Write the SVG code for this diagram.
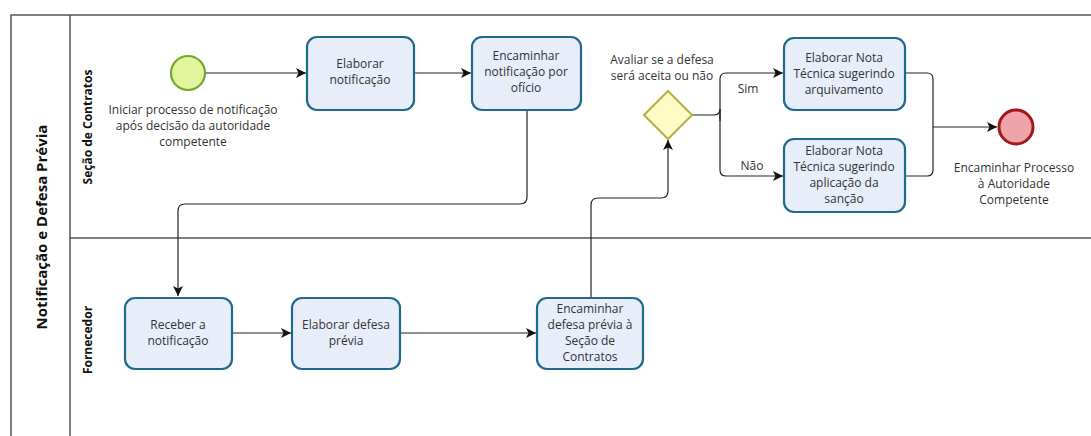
<svg xmlns="http://www.w3.org/2000/svg" width="1091" height="436" viewBox="0 0 1091 436">
<defs>
<marker id="arr" viewBox="0 0 10 10" refX="10" refY="5" markerWidth="10" markerHeight="10" markerUnits="userSpaceOnUse" orient="auto">
<path d="M0,0 L10,5 L0,10 L2.5,5 Z" fill="#111"/>
</marker>
</defs>
<style>
text{font-family:"Open Sans","Noto Sans","Liberation Sans",sans-serif;font-size:12px;fill:#333;text-anchor:middle}
.pool{fill:none;stroke:#555;stroke-width:1.5}
.task{fill:#e8edfa;stroke:#1e6a8c;stroke-width:2.2}
.flow{fill:none;stroke:#222;stroke-width:1.2;marker-end:url(#arr)}
.line{fill:none;stroke:#222;stroke-width:1.2}
.lbl{font-weight:bold;fill:#111}
</style>
<rect width="1091" height="436" fill="#fff"/>
<g id="pool">
<path class="pool" d="M11,440 L11,15 L1095,15"/>
<line class="pool" x1="70" y1="15" x2="70" y2="440"/>
<line class="pool" x1="70" y1="238" x2="1095" y2="238"/>
<text class="lbl" transform="translate(47,227) rotate(-90)" style="font-size:15px">Notificação e Defesa Prévia</text>
<text class="lbl" transform="translate(92,127) rotate(-90)">Seção de Contratos</text>
<text class="lbl" transform="translate(92,340) rotate(-90)">Fornecedor</text>
</g>
<g id="connectors">
<path class="flow" d="M205,73 L306,73"/>
<path class="flow" d="M414,73 L471,73"/>
<path class="flow" d="M527,110 L527,197 Q527,204 520,204 L185,204 Q178,204 178,211 L178,296"/>
<path class="flow" d="M232,333 L291,333"/>
<path class="flow" d="M400,333 L536,333"/>
<path class="flow" d="M591,297 L591,205 Q591,198 598,198 L661,198 Q668,198 668,191 L668,140"/>
<path class="line" d="M692,115 L714,115 Q720,115 720,109"/>
<path class="flow" d="M720,121 L720,79 Q720,73 726,73 L783,73"/>
<path class="flow" d="M720,109 L720,170 Q720,176 726,176 L783,176"/>
<path class="line" d="M905,73 L927,73 Q933,73 933,79 L933,170 Q933,176 927,176 L905,176"/>
<path class="flow" d="M933,127 L997,127"/>
<text x="748" y="93">Sim</text>
<text x="752" y="170">Não</text>
</g>
<g id="start">
<circle cx="188" cy="73" r="17" fill="#e3f59c" stroke="#72a92d" stroke-width="2.2"/>
<text x="193" y="114">Iniciar processo de notificação</text>
<text x="193" y="130">após decisão da autoridade</text>
<text x="193" y="146">competente</text>
</g>
<g id="t1">
<rect class="task" x="307" y="37" width="107" height="73" rx="10"/>
<text x="360" y="68">Elaborar</text>
<text x="360" y="84">notificação</text>
</g>
<g id="t2">
<rect class="task" x="472" y="37" width="109" height="73" rx="10"/>
<text x="526" y="60">Encaminhar</text>
<text x="526" y="76">notificação por</text>
<text x="526" y="92">ofício</text>
</g>
<g id="gw">
<path d="M668,91 L692,115 L668,139 L644,115 Z" fill="#fdfbc6" stroke="#b3b144" stroke-width="2"/>
<text x="662" y="64">Avaliar se a defesa</text>
<text x="662" y="80">será aceita ou não</text>
</g>
<g id="t3">
<rect class="task" x="784" y="38" width="121" height="72" rx="10"/>
<text x="844" y="62">Elaborar Nota</text>
<text x="844" y="78">Técnica sugerindo</text>
<text x="844" y="94">arquivamento</text>
</g>
<g id="t4">
<rect class="task" x="784" y="139" width="121" height="73" rx="10"/>
<text x="844" y="155">Elaborar Nota</text>
<text x="844" y="171">Técnica sugerindo</text>
<text x="844" y="187">aplicação da</text>
<text x="844" y="203">sanção</text>
</g>
<g id="end">
<circle cx="1016" cy="127" r="17" fill="#eea3a8" stroke="#a3161b" stroke-width="3"/>
<text x="1014" y="172">Encaminhar Processo</text>
<text x="1014" y="188">à Autoridade</text>
<text x="1014" y="204">Competente</text>
</g>
<g id="t5">
<rect class="task" x="125" y="298" width="107" height="71" rx="10"/>
<text x="178" y="329">Receber a</text>
<text x="178" y="345">notificação</text>
</g>
<g id="t6">
<rect class="task" x="292" y="298" width="108" height="71" rx="10"/>
<text x="346" y="329">Elaborar defesa</text>
<text x="346" y="345">prévia</text>
</g>
<g id="t7">
<rect class="task" x="537" y="298" width="106" height="71" rx="10"/>
<text x="590" y="313">Encaminhar</text>
<text x="590" y="329">defesa prévia à</text>
<text x="590" y="345">Seção de</text>
<text x="590" y="361">Contratos</text>
</g>
</svg>
